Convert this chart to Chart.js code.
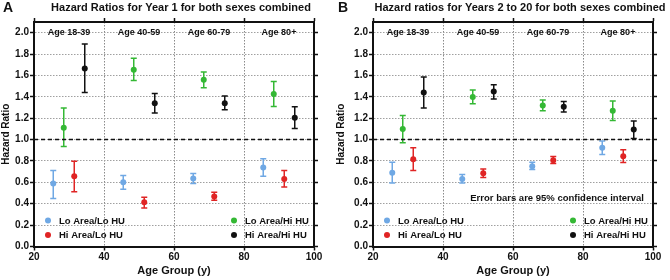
<!DOCTYPE html>
<html>
<head>
<meta charset="utf-8">
<script src="https://cdn.jsdelivr.net/npm/chart.js@4.4.0/dist/chart.umd.min.js"></script>
<style>
body { margin: 0; background: #fff; }
#wrap { position: relative; width: 670px; height: 280px; }
canvas { position: absolute; top: 0; }
</style>
</head>
<body>
<div id="wrap">
<canvas id="chartA" width="335" height="280" style="left:0;width:335px;height:280px"></canvas>
<canvas id="chartB" width="335" height="280" style="left:335px;width:335px;height:280px"></canvas>
</div>
<script>
// series names and colours
const seriesNames = ['Lo Area/Lo HU', 'Hi Area/Lo HU', 'Lo Area/Hi HU', 'Hi Area/Hi HU'];
const seriesColors = ['#6fa8e4', '#e02424', '#34b834', '#111111'];
const ageGroups = ['Age 18-39', 'Age 40-59', 'Age 60-79', 'Age 80+'];
const ageCenters = [30, 50, 70, 90];

// x positions (age, y) of each series
const xLoLo = [25.5, 45.5, 65.5, 85.5];
const xHiLo = [31.5, 51.5, 71.5, 91.5];
const xLoHi = [28.5, 48.5, 68.5, 88.5];
const xHiHi = [34.5, 54.5, 74.5, 94.5];

// Panel A - year 1
const aLoLo = [0.59, 0.60, 0.635, 0.74];
const aLoLoLow = [0.45, 0.535, 0.59, 0.657];
const aLoLoHigh = [0.71, 0.663, 0.682, 0.82];
const aHiLo = [0.657, 0.414, 0.467, 0.632];
const aHiLoLow = [0.513, 0.361, 0.433, 0.557];
const aHiLoHigh = [0.798, 0.461, 0.507, 0.71];
const aLoHi = [1.11, 1.653, 1.56, 1.426];
const aLoHiLow = [0.935, 1.553, 1.485, 1.31];
const aLoHiHigh = [1.295, 1.76, 1.632, 1.544];
const aHiHi = [1.666, 1.341, 1.341, 1.204];
const aHiHiLow = [1.44, 1.248, 1.279, 1.104];
const aHiHiHigh = [1.894, 1.432, 1.407, 1.307];

// Panel B - years 2 to 20
const bLoLo = [0.689, 0.632, 0.751, 0.923];
const bLoLoLow = [0.595, 0.595, 0.72, 0.86];
const bLoLoHigh = [0.789, 0.673, 0.789, 0.988];
const bHiLo = [0.817, 0.686, 0.807, 0.845];
const bHiLoLow = [0.71, 0.645, 0.776, 0.785];
const bHiLoHigh = [0.923, 0.726, 0.841, 0.904];
const bLoHi = [1.098, 1.398, 1.319, 1.27];
const bLoHiLow = [0.97, 1.335, 1.27, 1.178];
const bLoHiHigh = [1.225, 1.463, 1.37, 1.36];
const bHiHi = [1.441, 1.45, 1.307, 1.094];
const bHiHiLow = [1.295, 1.379, 1.257, 1.01];
const bHiHiHigh = [1.585, 1.513, 1.357, 1.173];

const FONT = "'Liberation Sans', Arial, sans-serif";
Chart.defaults.font.family = FONT;
Chart.defaults.color = '#111';

// draws the 95% CI whiskers under the points
const errorBars = {
  id: 'errorBars',
  beforeDatasetsDraw(chart) {
    const ctx = chart.ctx, xs = chart.scales.x, ys = chart.scales.y;
    chart.data.datasets.forEach(ds => {
      if (!ds.lower) return;
      ctx.save();
      ctx.strokeStyle = ds.backgroundColor;
      ctx.lineWidth = 1.5;
      ds.data.forEach((p, i) => {
        const px = xs.getPixelForValue(p.x);
        const top = ys.getPixelForValue(ds.upper[i]);
        const bot = ys.getPixelForValue(ds.lower[i]);
        ctx.beginPath();
        ctx.moveTo(px, top); ctx.lineTo(px, bot);
        ctx.moveTo(px - 3, top); ctx.lineTo(px + 3, top);
        ctx.moveTo(px - 3, bot); ctx.lineTo(px + 3, bot);
        ctx.stroke();
      });
      ctx.restore();
    });
  }
};

// letter, title, age group labels, legend and note
const panelText = {
  id: 'panel',
  afterDraw(chart, args, opts) {
    const ctx = chart.ctx, area = chart.chartArea;
    const xs = chart.scales.x, ys = chart.scales.y;
    ctx.save();
    ctx.fillStyle = '#111';
    ctx.textBaseline = 'middle';
    ctx.font = 'bold 14px ' + FONT;
    ctx.textAlign = 'left';
    ctx.fillText(opts.letter, opts.letterX, 8);
    ctx.font = 'bold 11px ' + FONT;
    ctx.textAlign = 'center';
    ctx.fillText(opts.title, (area.left + area.right) / 2 + 7, 8);

    ctx.font = 'bold 9px ' + FONT;
    ageGroups.forEach((g, i) => {
      ctx.fillText(g, xs.getPixelForValue(ageCenters[i]), ys.getPixelForValue(2.0));
    });

    ctx.font = 'bold 9.5px ' + FONT;
    ctx.textAlign = 'left';
    const rows = [area.bottom - 26, area.bottom - 11.5];
    const cols = [area.left + 14, area.right - 80];
    seriesNames.forEach((name, i) => {
      const cx = cols[Math.floor(i / 2)], cy = rows[i % 2];
      ctx.fillStyle = seriesColors[i];
      ctx.beginPath();
      ctx.arc(cx, cy, 3, 0, Math.PI * 2);
      ctx.fill();
      ctx.fillStyle = '#111';
      ctx.fillText(name, cx + 11, cy + 0.5);
    });

    if (opts.note) {
      ctx.textAlign = 'right';
      ctx.fillText(opts.note, area.right - 9, area.bottom - 48);
    }
    ctx.restore();
  }
};

function makeSeries(xv, yv, lo, hi, color) {
  return {
    type: 'scatter',
    data: xv.map((x, i) => ({ x: x, y: yv[i] })),
    lower: lo,
    upper: hi,
    backgroundColor: color,
    borderWidth: 0,
    pointRadius: 3,
    pointHoverRadius: 3
  };
}

function makeChart(id, letter, title, note, leftW, rightW, series) {
  const tickFont = { size: 10, weight: 'bold' };
  const yTicks = { stepSize: 0.2, includeBounds: false, font: tickFont, padding: 1, callback: v => v.toFixed(1) };
  return new Chart(document.getElementById(id), {
    type: 'scatter',
    data: {
      datasets: [
        {
          type: 'line',
          data: [{ x: 20, y: 1 }, { x: 100, y: 1 }],
          borderColor: '#111',
          borderWidth: 1.5,
          borderDash: [4, 3],
          pointRadius: 0,
          order: 5
        }
      ].concat(series.map((s, i) => makeSeries(s[0], s[1], s[2], s[3], seriesColors[i])))
    },
    options: {
      responsive: false,
      animation: false,
      events: [],
      layout: { padding: 0 },
      plugins: {
        legend: { display: false },
        tooltip: { enabled: false },
        panel: { letter: letter, letterX: 3, title: title, note: note }
      },
      scales: {
        x: {
          type: 'linear', position: 'bottom', min: 20, max: 100,
          ticks: { stepSize: 20, font: tickFont, padding: 1 },
          grid: { color: '#8a8a8a', lineWidth: 1, tickLength: 4, tickColor: '#111', tickWidth: 1.5 },
          border: { color: '#111', width: 2, dash: [1.5, 1.5] },
          title: { display: true, text: 'Age Group (y)', font: { size: 11, weight: 'bold' }, padding: { top: 0, bottom: 2 } },
          afterFit: s => { s.height = 33.5; }
        },
        x2: {
          type: 'linear', position: 'top', min: 20, max: 100,
          ticks: { display: false, stepSize: 20 },
          grid: { drawOnChartArea: false, tickLength: 4, tickColor: '#111', tickWidth: 1.5 },
          border: { color: '#111', width: 2 },
          afterFit: s => { s.height = 22; }
        },
        y: {
          type: 'linear', position: 'left', min: 0, max: 2.1,
          ticks: yTicks,
          grid: { color: '#a0a0a0', lineWidth: 1, tickLength: 4, tickColor: '#111', tickWidth: 1.5 },
          border: { color: '#111', width: 2, dash: [1.5, 1.5] },
          title: { display: true, text: 'Hazard Ratio', font: { size: 10, weight: 'bold' }, padding: { top: 0, bottom: 0 } },
          afterFit: s => { s.width = leftW; }
        },
        y2: {
          type: 'linear', position: 'right', min: 0, max: 2.1,
          ticks: { display: false, stepSize: 0.2, includeBounds: false },
          grid: { drawOnChartArea: false, tickLength: 4, tickColor: '#111', tickWidth: 1.5 },
          border: { color: '#111', width: 2 },
          afterFit: s => { s.width = rightW; }
        }
      }
    },
    plugins: [errorBars, panelText]
  });
}

makeChart('chartA', 'A', 'Hazard Ratios for Year 1 for both sexes combined', null, 34, 21, [
  [xLoLo, aLoLo, aLoLoLow, aLoLoHigh],
  [xHiLo, aHiLo, aHiLoLow, aHiLoHigh],
  [xLoHi, aLoHi, aLoHiLow, aLoHiHigh],
  [xHiHi, aHiHi, aHiHiLow, aHiHiHigh]
]);

makeChart('chartB', 'B', 'Hazard ratios for Years 2 to 20 for both sexes combined',
  'Error bars are 95% confidence interval', 38, 17, [
  [xLoLo, bLoLo, bLoLoLow, bLoLoHigh],
  [xHiLo, bHiLo, bHiLoLow, bHiLoHigh],
  [xLoHi, bLoHi, bLoHiLow, bLoHiHigh],
  [xHiHi, bHiHi, bHiHiLow, bHiHiHigh]
]);
</script>
</body>
</html>
